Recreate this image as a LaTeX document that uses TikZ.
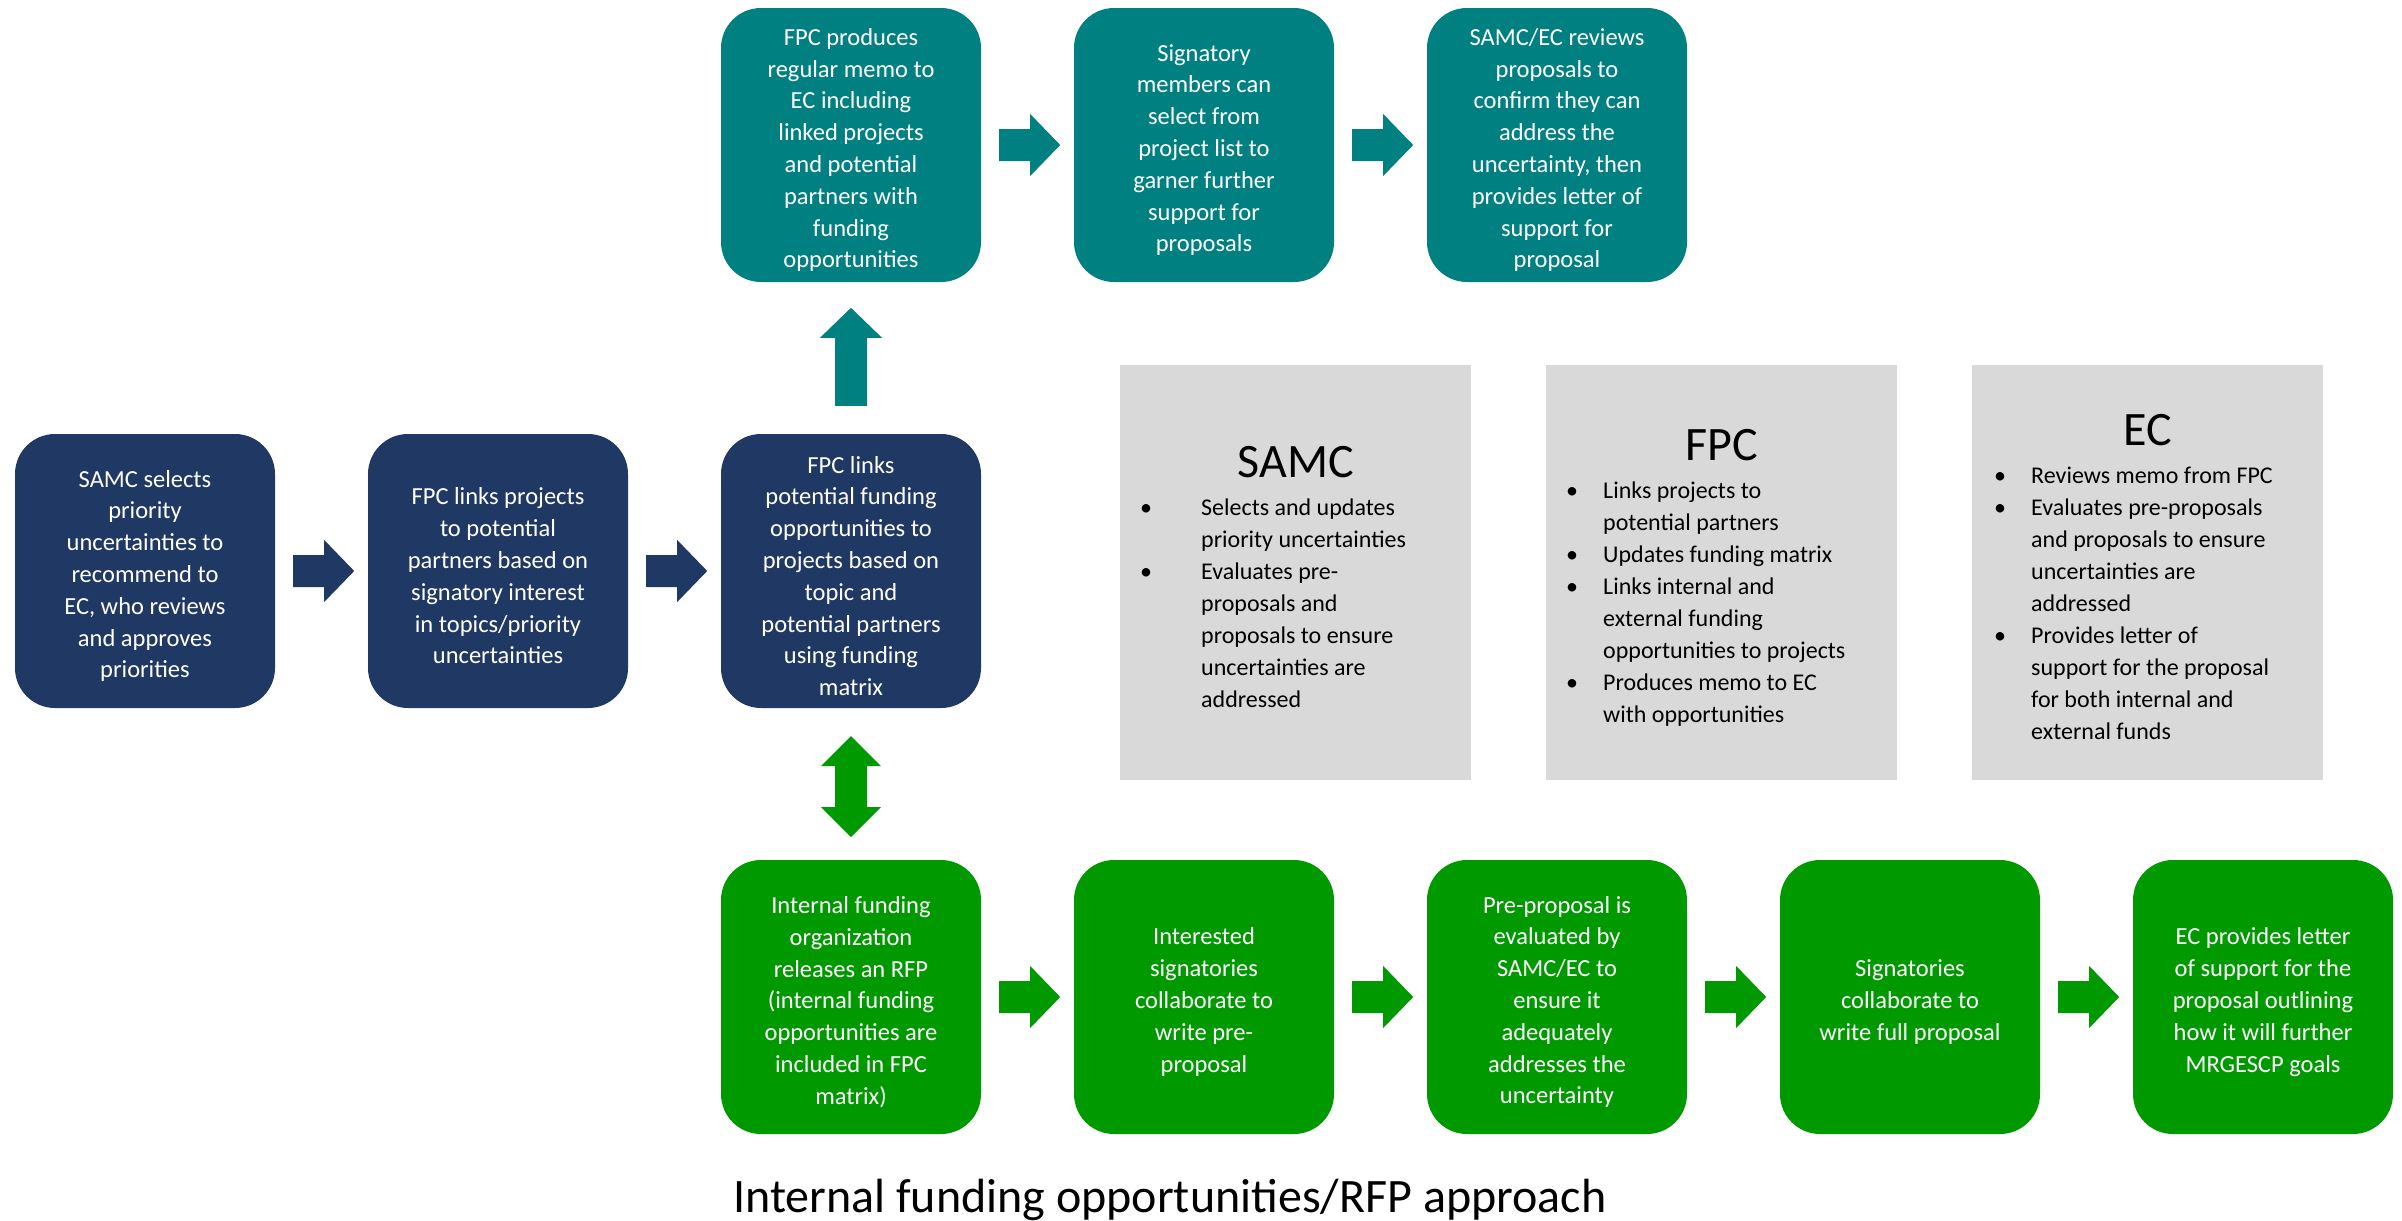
\documentclass[tikz,border=0pt]{standalone}
\usepackage{fontspec}
\setmainfont{Carlito}
\usetikzlibrary{calc}
\definecolor{mynavy}{HTML}{203864}
\definecolor{myteal}{HTML}{008080}
\definecolor{mygreen}{HTML}{009900}
\definecolor{mygray}{HTML}{D9D9D9}
\newcommand\rarrow[2]{\fill[#2] (#1.east) ++(18,-16) -- ++(31,0) -- ++(0,-15) -- ++(30,31) -- ++(-30,31) -- ++(0,-15) -- ++(-31,0) -- cycle;}
\newcommand\fl{\rule{0pt}{27pt}}
\begin{document}
\begin{tikzpicture}[x=1pt,y={(0pt,-1pt)},
  box/.style={rectangle, rounded corners=40pt, minimum width=260pt, minimum height=274pt, inner sep=0pt, align=center, text=white, font=\fontsize{24.5}{31.8}\selectfont},
  navybox/.style={box, fill=mynavy},
  tealbox/.style={box, fill=myteal},
  greenbox/.style={box, fill=mygreen},
  graybox/.style={rectangle, fill=mygray, minimum width=351pt, minimum height=415pt, inner sep=0pt},
  graytitle/.style={anchor=base, inner sep=0pt, font=\fontsize{48}{56}\selectfont},
  graylist/.style={anchor=base west, inner sep=0pt, font=\fontsize{24}{32}\selectfont}]
\useasboundingbox (0,0) rectangle (2402,1221);

% navy row
\node[navybox] (b1) at (145,571) {\fl SAMC selects\\priority\\uncertainties to\\recommend to\\EC, who reviews\\and approves\\priorities};
\node[navybox] (b2) at (498,571) {\fl FPC links projects\\to potential\\partners based on\\signatory interest\\in topics/priority\\uncertainties};
\node[navybox] (b3) at (851,571) {\fl FPC links\\potential funding\\opportunities to\\projects based on\\topic and\\potential partners\\using funding\\matrix};

% teal row
\node[tealbox] (t1) at (851,145) {\fl FPC produces\\regular memo to\\EC including\\linked projects\\and potential\\partners with\\funding\\opportunities};
\node[tealbox] (t2) at (1204,145) {\fl Signatory\\members can\\select from\\project list to\\garner further\\support for\\proposals};
\node[tealbox] (t3) at (1557,145) {\fl SAMC/EC reviews\\proposals to\\confirm they can\\address the\\uncertainty, then\\provides letter of\\support for\\proposal};

% green row
\node[greenbox] (g1) at (851,997) {\fl Internal funding\\organization\\releases an RFP\\(internal funding\\opportunities are\\included in FPC\\matrix)};
\node[greenbox] (g2) at (1204,997) {\fl Interested\\signatories\\collaborate to\\write pre-\\proposal};
\node[greenbox] (g3) at (1557,997) {\fl Pre-proposal is\\evaluated by\\SAMC/EC to\\ensure it\\adequately\\addresses the\\uncertainty};
\node[greenbox] (g4) at (1910,997) {\fl Signatories\\collaborate to\\write full proposal};
\node[greenbox] (g5) at (2263,997) {\fl EC provides letter\\of support for the\\proposal outlining\\how it will further\\MRGESCP goals};

% gray boxes
\node[graybox] (samc) at (1295.5,572.5) {};
\node[graybox] (fpc) at (1721.5,572.5) {};
\node[graybox] (ec) at (2147.5,572.5) {};
\node[graytitle] (samcT) at (1296,477) {SAMC};
\node[graytitle] (fpcT) at (1722,460) {FPC};
\node[graytitle] (ecT) at (2148,445) {EC};
\node[graylist] (samcL) at (1140,515) {\begin{tabular}[t]{@{}p{61pt}@{}l@{}}
•&Selects and updates\\ &priority uncertainties\\
•&Evaluates pre-\\ &proposals and\\ &proposals to ensure\\ &uncertainties are\\ &addressed
\end{tabular}};
\node[graylist] (fpcL) at (1566,498) {\begin{tabular}[t]{@{}p{37pt}@{}l@{}}
•&Links projects to\\ &potential partners\\
•&Updates funding matrix\\
•&Links internal and\\ &external funding\\ &opportunities to projects\\
•&Produces memo to EC\\ &with opportunities
\end{tabular}};
\node[graylist] (ecL) at (1994,483) {\begin{tabular}[t]{@{}p{37pt}@{}l@{}}
•&Reviews memo from FPC\\
•&Evaluates pre-proposals\\ &and proposals to ensure\\ &uncertainties are\\ &addressed\\
•&Provides letter of\\ &support for the proposal\\ &for both internal and\\ &external funds
\end{tabular}};

% arrows
\rarrow{b1}{mynavy}
\rarrow{b2}{mynavy}
\rarrow{t1}{myteal}
\rarrow{t2}{myteal}
\rarrow{g1}{mygreen}
\rarrow{g2}{mygreen}
\rarrow{g3}{mygreen}
\rarrow{g4}{mygreen}
\fill[myteal] (b3.north) ++(-16,-28) -- ++(0,-68) -- ++(-15,0) -- ++(31,-30) -- ++(31,30) -- ++(-15,0) -- ++(0,68) -- cycle;
\fill[mygreen] (b3.south) ++(0,28) -- ++(-30,30) -- ++(14,0) -- ++(0,41) -- ++(-14,0) -- ++(30,30) -- ++(30,-30) -- ++(-14,0) -- ++(0,-41) -- ++(14,0) -- cycle;

% title
\node[anchor=base west, inner sep=0pt, font=\fontsize{48}{56}\selectfont] (title) at (733,1212) {Internal funding opportunities/RFP approach};
\end{tikzpicture}
\end{document}
